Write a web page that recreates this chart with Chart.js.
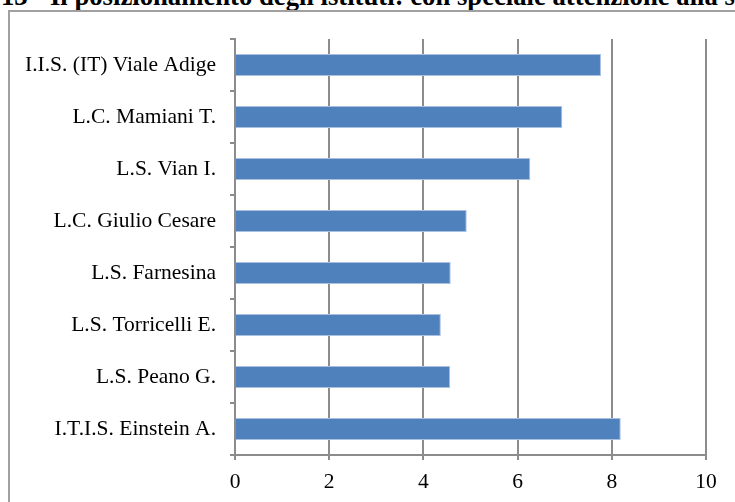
<!DOCTYPE html>
<html>
<head>
<meta charset="utf-8">
<script src="https://cdn.jsdelivr.net/npm/chart.js@4"></script>
<style>
  html, body { margin: 0; padding: 0; background: #fff; overflow: hidden; }
  body { width: 735px; height: 502px; position: relative; }
  #titolo {
    position: absolute; left: 1px; top: -17px; white-space: nowrap;
    font: bold 26.7px 'Liberation Serif', 'Times New Roman', serif; line-height: 1; color: #000;
  }
  #cornice {
    position: absolute; left: 8px; top: 10px; width: 760px; height: 520px;
    border: 2px solid #a0a0a0; box-sizing: border-box;
  }
  #wrap { position: absolute; left: 0; top: 0; width: 735px; height: 502px; }
</style>
</head>
<body>
<div id="titolo">13 - Il posizionamento degli istituti: con speciale attenzione alla situazione del quartiere</div>
<div id="cornice"></div>
<div id="wrap"><canvas id="grafico"></canvas></div>
<script>
// istituti (dall'alto verso il basso)
var istituti = [
    'I.I.S. (IT) Viale Adige',
    'L.C. Mamiani T.',
    'L.S. Vian I.',
    'L.C. Giulio Cesare',
    'L.S. Farnesina',
    'L.S. Torricelli E.',
    'L.S. Peano G.',
    'I.T.I.S. Einstein A.'
];
var punteggi = [7.77, 6.95, 6.27, 4.92, 4.58, 4.37, 4.57, 8.19];
var tacche = [0, 2, 4, 6, 8, 10];

var grigio = '#8c8c8c';
var fontSerif = { family: "'Liberation Serif', 'Times New Roman', serif", size: 21.5 };

var ctx = document.getElementById('grafico').getContext('2d');
var grafico = new Chart(ctx, {
    type: 'bar',
    data: {
        labels: istituti,
        datasets: [{
            data: punteggi,
            backgroundColor: '#4f81bd',
            borderColor: '#a9c0e0',
            borderWidth: 1,
            borderSkipped: 'start',
            barPercentage: 0.42,
            categoryPercentage: 1
        }]
    },
    options: {
        indexAxis: 'y',
        responsive: true,
        maintainAspectRatio: false,
        animation: false,
        layout: { padding: { left: 0, right: 29, top: 39, bottom: 0 } },
        scales: {
            x: {
                min: 0,
                max: 10,
                afterBuildTicks: function(scale) {
                    scale.ticks = tacche.map(function(v) { return { value: v }; });
                },
                afterFit: function(scale) { scale.height = 47; },
                grid: { color: grigio, lineWidth: 2, tickLength: 5 },
                border: { color: grigio, width: 2 },
                ticks: { color: '#000', font: fontSerif, padding: 9, maxRotation: 0 }
            },
            y: {
                afterFit: function(scale) { scale.width = 235; },
                grid: { offset: true, drawOnChartArea: false, color: grigio, lineWidth: 2, tickLength: 5 },
                border: { color: grigio, width: 2 },
                ticks: { color: '#000', font: fontSerif, padding: 14 }
            }
        },
        plugins: {
            legend: { display: false },
            tooltip: { enabled: false }
        }
    }
});
</script>
</body>
</html>
